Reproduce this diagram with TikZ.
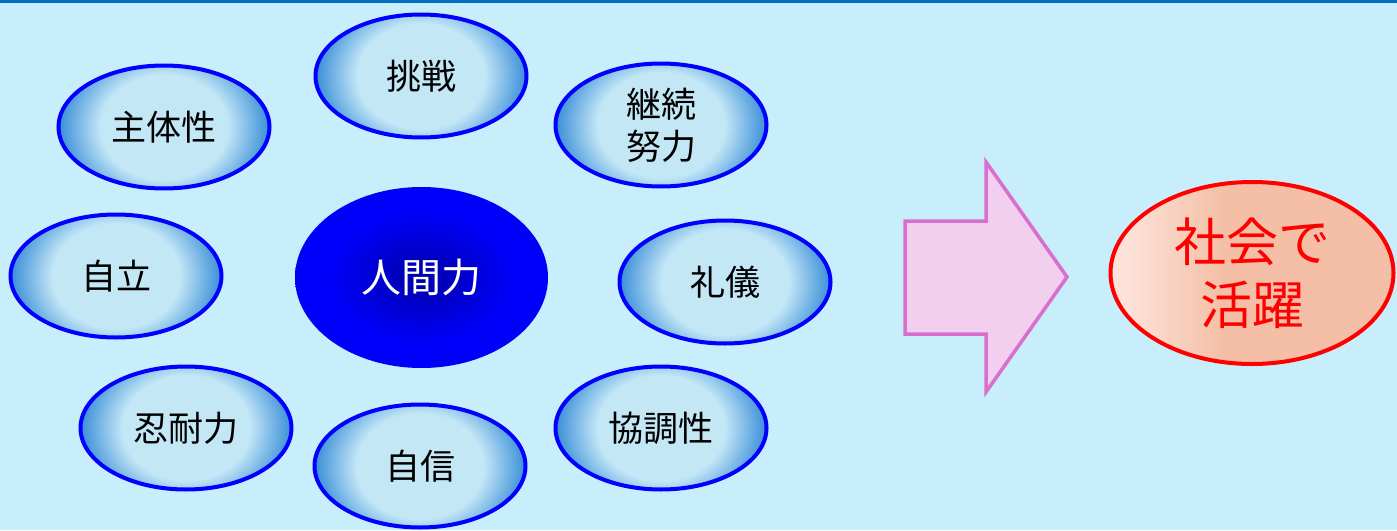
\documentclass[tikz,border=0pt]{standalone}
\usepackage{fontspec}
\setmainfont{Noto Sans CJK JP}
\usetikzlibrary{shapes.geometric}
\definecolor{bg}{HTML}{C8EEFC}
\definecolor{topline}{HTML}{0070C0}
\definecolor{bubblein}{HTML}{C4E7F6}
\definecolor{bubbleout}{HTML}{3A8ED8}
\definecolor{corein}{HTML}{0000A8}
\definecolor{coreout}{HTML}{0000FA}
\definecolor{goalin}{HTML}{FCE2D8}
\definecolor{goalout}{HTML}{F4BFA6}
\definecolor{arrowfill}{HTML}{F2CFEE}
\definecolor{arrowline}{HTML}{D86FCC}
\pgfdeclareradialshading{bubbleshade}{\pgfpoint{0bp}{0bp}}{color(0bp)=(bubblein); color(15bp)=(bubblein); color(25bp)=(bubbleout); color(50bp)=(bubbleout)}
\pgfdeclareradialshading{coreshade}{\pgfpoint{0bp}{0bp}}{color(0bp)=(corein); color(18bp)=(coreout); color(50bp)=(coreout)}
\pgfdeclarehorizontalshading{goalshade}{100bp}{color(0bp)=(goalin); color(28bp)=(goalin); color(45bp)=(goalout); color(100bp)=(goalout)}
\tikzset{
  bubble/.style={ellipse, draw=blue, line width=4pt,
    path picture={\shade[shading=bubbleshade]
      ([yshift=-26pt]path picture bounding box.south west) rectangle
      ([yshift=26pt]path picture bounding box.north east);},
    minimum width=211pt, minimum height=123pt, inner sep=0pt,
    font=\fontsize{35}{42}\selectfont, text=black, align=center},
  core/.style={ellipse, shading=coreshade, minimum width=253pt, minimum height=181pt,
    inner sep=0pt, font=\fontsize{40}{48}\selectfont, text=white},
  goal/.style={ellipse, draw=red, line width=4pt, shading=goalshade,
    minimum width=283pt, minimum height=182pt, inner sep=0pt,
    font=\fontsize{52}{63}\selectfont, text=red, align=center},
  bigarrow/.style={draw=arrowline, fill=arrowfill, line width=3.5pt, line join=miter}
}
\begin{document}
\begin{tikzpicture}[x=1pt, y=-1pt]
\useasboundingbox (0,0) rectangle (1397,530);
\fill[bg] (0,0) rectangle (1397,530);
\fill[topline] (0,0) rectangle (1397,2.5);

\node[core] (jinkan) at (421.5,277.5) {人間力};

\node[bubble] (chosen) at (421,76) {挑戦};
\node[bubble] (shutai) at (164,127) {主体性};
\node[bubble] (keizoku) at (661,125) {継続\\努力};
\node[bubble] (jiritsu) at (116,276) {自立};
\node[bubble] (reigi) at (725,282) {礼儀};
\node[bubble] (nintai) at (186,428) {忍耐力};
\node[bubble] (jishin) at (420,466) {自信};
\node[bubble] (kyocho) at (661,428) {協調性};

\draw[bigarrow] (905,221) -- (986,221) -- (986,162) -- (1067,277)
  -- (986,392) -- (986,334) -- (905,334) -- cycle;

\node[goal] (katsuyaku) at (1252,273) {社会で\\活躍};
\end{tikzpicture}
\end{document}
